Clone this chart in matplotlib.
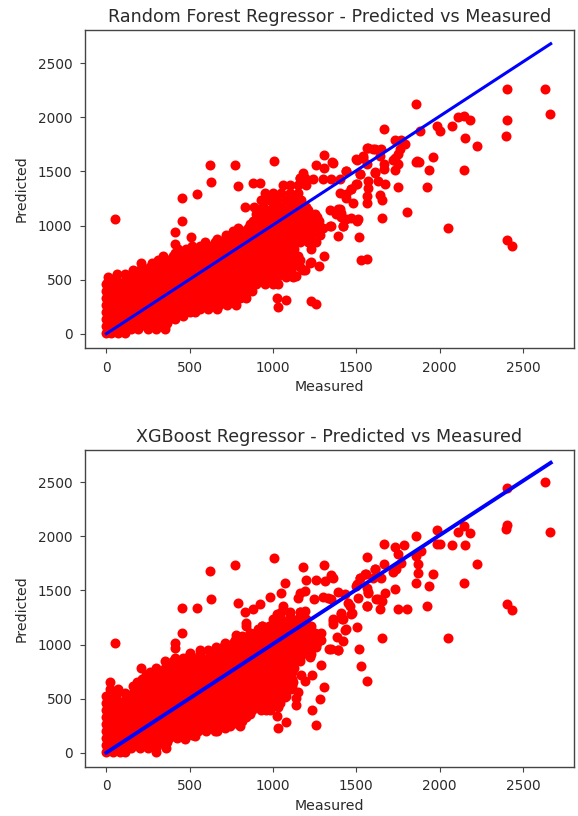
import matplotlib
matplotlib.use("Agg")
import matplotlib.pyplot as plt

axis_ticks = [0, 500, 1000, 1500, 2000, 2500]
line_measured = [0, 2666]
line_predicted = [0, 2680]

# ---- Random Forest: dense cloud, read row by row (predicted level -> measured values)
rf_levels = [10, 40, 70, 135, 200, 265, 330, 395, 460, 525, 590, 655, 720, 785, 850, 915, 980, 1045, 1110, 1175, 1240, 1305, 1370, 1435,
             100, 165, 230, 295, 360, 425, 490, 555, 620, 685, 750, 815, 880, 945, 1010, 1075, 1140]
rf_rows = [
    [0, 30, 70, 110],
    [150, 190, 250, 300, 350],
    [0, 50, 100, 150, 200, 250, 300, 350],
    [0, 25, 75, 125, 175, 225, 275, 325, 375, 410],
    [0, 50, 100, 150, 200, 250, 300, 350, 400, 450, 500, 530],
    [0, 25, 75, 125, 175, 225, 275, 325, 375, 425, 475, 525, 575, 625, 675, 725, 780],
    [0, 50, 100, 150, 200, 250, 300, 350, 400, 450, 500, 550, 600, 650, 700, 750, 800, 840],
    [0, 25, 75, 125, 175, 225, 275, 325, 375, 425, 475, 525, 575, 625, 675, 725, 775, 825, 875],
    [0, 50, 100, 150, 200, 250, 300, 350, 400, 450, 500, 550, 600, 650, 700, 750, 800, 850, 900, 950, 1000],
    [10, 60, 125, 175, 225, 275, 325, 375, 425, 475, 525, 575, 625, 675, 725, 775, 825, 875, 925, 975, 1025, 1075, 1120],
    [160, 200, 250, 300, 350, 400, 450, 500, 550, 600, 650, 700, 750, 800, 850, 900, 950, 1000, 1050, 1100, 1180],
    [210, 275, 325, 375, 425, 475, 525, 575, 625, 675, 725, 775, 825, 875, 925, 975, 1025, 1075, 1130, 1220],
    [340, 400, 450, 500, 550, 600, 650, 700, 750, 800, 850, 900, 950, 1000, 1050, 1100, 1150],
    [430, 475, 525, 575, 625, 675, 725, 775, 825, 875, 925, 975, 1025, 1075, 1125, 1230],
    [590, 650, 700, 750, 800, 850, 900, 950, 1000, 1050, 1100, 1160, 1210, 1260],
    [720, 775, 825, 875, 925, 975, 1025, 1075, 1125, 1175, 1225, 1280],
    [790, 850, 900, 950, 1000, 1050, 1100, 1150, 1200, 1250, 1300],
    [880, 925, 975, 1025, 1075, 1125, 1175, 1225, 1275],
    [900, 950, 1000, 1050, 1100, 1150, 1200, 1250],
    [830, 885, 940, 1000, 1050, 1100, 1150, 1200],
    [930, 975, 1025, 1075, 1125, 1170],
    [950, 1000, 1050, 1100, 1150],
    [1060, 1100, 1150, 1200],
    [1160, 1190],
    [12, 62, 112, 162, 212, 262, 312, 362],
    [12, 62, 112, 162, 212, 262, 312, 362, 412, 462],
    [12, 62, 112, 162, 212, 262, 312, 362, 412, 462, 512, 562, 612, 662],
    [12, 62, 112, 162, 212, 262, 312, 362, 412, 462, 512, 562, 612, 662, 712, 762],
    [12, 62, 112, 162, 212, 262, 312, 362, 412, 462, 512, 562, 612, 662, 712, 762, 812],
    [12, 62, 112, 162, 212, 262, 312, 362, 412, 462, 512, 562, 612, 662, 712, 762, 812, 862],
    [12, 62, 112, 162, 212, 262, 312, 362, 412, 462, 512, 562, 612, 662, 712, 762, 812, 862, 912, 962],
    [62, 112, 162, 212, 262, 312, 362, 412, 462, 512, 562, 612, 662, 712, 762, 812, 862, 912, 962, 1012, 1062, 1112],
    [212, 262, 312, 362, 412, 462, 512, 562, 612, 662, 712, 762, 812, 862, 912, 962, 1012, 1062, 1112, 1162],
    [312, 362, 412, 462, 512, 562, 612, 662, 712, 762, 812, 862, 912, 962, 1012, 1062, 1112, 1162],
    [412, 462, 512, 562, 612, 662, 712, 762, 812, 862, 912, 962, 1012, 1062, 1112],
    [512, 562, 612, 662, 712, 762, 812, 862, 912, 962, 1012, 1062, 1112],
    [662, 712, 762, 812, 862, 912, 962, 1012, 1062, 1112, 1162, 1212],
    [762, 812, 862, 912, 962, 1012, 1062, 1112, 1162, 1212, 1262],
    [862, 912, 962, 1012, 1062, 1112, 1162, 1212, 1262],
    [912, 962, 1012, 1062, 1112, 1162, 1212, 1262],
    [912, 962, 1012, 1062, 1112, 1162, 1212],
]
# ---- Random Forest: separately readable points
rf_measured = [2406, 2634, 2660, 2406, 2398, 1856, 1664, 1880, 1986, 2000, 2074, 2110, 2144, 2180, 2152, 2222, 2144, 1960, 1934, 1924,
               1856, 1866, 1876, 2048, 2406, 2432, 1804, 1654, 1750, 1734, 1750, 1734, 1770, 1790, 1760, 1750, 1720, 1734, 1666, 1666,
               1566, 1600, 1650, 1640, 1540, 1506, 1566, 1520, 1436, 1360, 1610, 1630, 1570, 1670, 1570, 1506, 1470, 1440, 1440, 1566,
               1644, 1654, 1480, 1566, 1400, 1410, 1410, 1470, 1510, 1514, 1390, 1530, 1566, 1346, 1380, 1420, 1340, 1436, 1506, 1390,
               1306, 1276, 1230, 1190, 1140, 1030, 1026, 1076, 1030, 1230, 1260, 1340, 1420, 1006, 770, 622, 630, 788, 880, 920, 544,
               456, 456, 54, 410, 506, 412, 1570, 1610, 1500, 1540, 1520, 1500, 1470, 1400, 1400, 1350, 1300, 1240, 1356, 1306, 1260,
               1306, 1180, 1160, 1610, 1440]
rf_predicted = [2260, 2260, 2028, 1976, 1827, 2124, 1895, 1877, 1920, 1877, 1920, 2003, 2016, 1976, 1812, 1732, 1516, 1636, 1516, 1352,
                1590, 1596, 1590, 973, 868, 812, 1124, 1068, 1352, 1516, 1568, 1790, 1790, 1757, 1705, 1665, 1610, 1625, 1568, 1518,
                1720, 1705, 1710, 1640, 1640, 1610, 1565, 1480, 1506, 1580, 1490, 1410, 1410, 1380, 1350, 1380, 1340, 1290, 1250, 1270,
                1280, 1240, 1204, 1204, 1150, 1120, 1080, 1065, 1060, 895, 900, 680, 692, 994, 1102, 994, 1148, 1056, 1040, 1155,
                716, 624, 664, 587, 531, 463, 330, 309, 244, 300, 275, 994, 994, 1596, 1556, 1556, 1405, 1368, 1395, 1395, 1287,
                1257, 1044, 1056, 939, 895, 825, 1720, 1704, 1611, 1627, 1473, 1380, 1340, 1426, 1303, 1426, 1426, 1426, 1587, 1534, 1556,
                1650, 1488, 1442, 1482, 1503]

# ---- XGBoost: dense cloud, read row by row
xgb_levels = [10, 40, 70, 135, 200, 265, 330, 395, 460, 525, 590, 655, 720, 785, 850, 915, 980, 1045, 1110, 1175, 1240, 1305,
              100, 165, 230, 295, 360, 425, 490, 555, 620, 685, 750, 815, 880, 945, 1010, 1075, 1140]
xgb_rows = [
    [0, 40, 80, 110, 300],
    [150, 200, 250, 300, 360],
    [0, 50, 100, 150, 200, 250, 300, 350],
    [0, 25, 75, 125, 175, 225, 275, 325, 375, 425, 470],
    [0, 50, 100, 150, 200, 250, 300, 350, 400, 450, 500, 550, 600, 650],
    [0, 25, 75, 125, 175, 225, 275, 325, 375, 425, 475, 525, 575, 625, 675, 725, 790],
    [0, 50, 100, 150, 200, 250, 300, 350, 400, 450, 500, 550, 600, 650, 700, 750, 800, 840],
    [0, 25, 75, 125, 175, 225, 275, 325, 375, 425, 475, 525, 575, 625, 675, 725, 775, 825, 875, 925, 960],
    [0, 50, 100, 150, 200, 250, 300, 350, 400, 450, 500, 550, 600, 650, 700, 750, 800, 850, 900, 950, 1000, 1040],
    [0, 50, 125, 175, 225, 275, 325, 375, 425, 475, 525, 575, 625, 675, 725, 775, 825, 875, 925, 975, 1025, 1075],
    [24, 70, 180, 200, 250, 300, 350, 400, 450, 500, 550, 600, 650, 700, 750, 800, 850, 900, 950, 1000, 1050, 1110],
    [24, 186, 230, 275, 325, 375, 425, 475, 525, 575, 625, 675, 725, 775, 825, 875, 925, 975, 1025, 1075, 1120],
    [240, 300, 350, 400, 450, 500, 550, 600, 650, 700, 750, 800, 850, 900, 950, 1000, 1050, 1100, 1170],
    [300, 350, 385, 425, 475, 525, 575, 625, 675, 725, 775, 825, 875, 925, 975, 1025, 1075, 1125],
    [350, 400, 450, 500, 550, 600, 650, 700, 750, 800, 850, 900, 950, 1000, 1050, 1100, 1160],
    [500, 560, 625, 675, 725, 775, 825, 875, 925, 975, 1025, 1075, 1125, 1175, 1230],
    [660, 700, 750, 800, 850, 900, 950, 1000, 1050, 1100, 1150, 1200, 1260],
    [770, 825, 875, 925, 975, 1025, 1075, 1125, 1175, 1225, 1285],
    [860, 900, 950, 1000, 1050, 1100, 1150, 1200, 1250, 1290],
    [840, 936, 975, 1025, 1075, 1125, 1175, 1225],
    [1000, 1050, 1100, 1150, 1200],
    [1050, 1100, 1160],
    [12, 62, 112, 162, 212, 262, 312, 362],
    [12, 62, 112, 162, 212, 262, 312, 362, 412, 462, 512],
    [12, 62, 112, 162, 212, 262, 312, 362, 412, 462, 512, 562, 612, 662, 712],
    [12, 62, 112, 162, 212, 262, 312, 362, 412, 462, 512, 562, 612, 662, 712, 762, 812],
    [12, 62, 112, 162, 212, 262, 312, 362, 412, 462, 512, 562, 612, 662, 712, 762, 812, 862],
    [12, 62, 112, 162, 212, 262, 312, 362, 412, 462, 512, 562, 612, 662, 712, 762, 812, 862, 912, 962],
    [12, 62, 112, 162, 212, 262, 312, 362, 412, 462, 512, 562, 612, 662, 712, 762, 812, 862, 912, 962, 1012],
    [62, 112, 162, 212, 262, 312, 362, 412, 462, 512, 562, 612, 662, 712, 762, 812, 862, 912, 962, 1012, 1062],
    [162, 212, 262, 312, 362, 412, 462, 512, 562, 612, 662, 712, 762, 812, 862, 912, 962, 1012, 1062, 1112],
    [212, 262, 312, 362, 412, 462, 512, 562, 612, 662, 712, 762, 812, 862, 912, 962, 1012, 1062, 1112],
    [262, 312, 362, 412, 462, 512, 562, 612, 662, 712, 762, 812, 862, 912, 962, 1012, 1062, 1112],
    [362, 412, 462, 512, 562, 612, 662, 712, 762, 812, 862, 912, 962, 1012, 1062, 1112],
    [412, 462, 512, 562, 612, 662, 712, 762, 812, 862, 912, 962, 1012, 1062, 1112, 1162],
    [562, 612, 662, 712, 762, 812, 862, 912, 962, 1012, 1062, 1112, 1162, 1212],
    [712, 762, 812, 862, 912, 962, 1012, 1062, 1112, 1162, 1212, 1262],
    [812, 862, 912, 962, 1012, 1062, 1112, 1162, 1212, 1262],
    [912, 962, 1012, 1062, 1112, 1162, 1212],
]
# ---- XGBoost: separately readable points
xgb_measured = [2406, 2634, 2660, 2406, 2398, 2406, 2432, 2048, 2144, 2222, 2152, 2180, 2144, 2110, 2074, 1986, 2000, 1986, 1960, 1934,
                1924, 1856, 1856, 1890, 1856, 1870, 1870, 1804, 1750, 1734, 1654, 1670, 1630, 1656, 1644, 1566, 1566, 1664, 1734, 1786,
                1750, 1770, 1740, 1720, 1664, 1610, 1650, 1600, 1550, 1520, 1504, 1564, 1570, 1510, 1360, 1350, 1390, 1430, 1350, 1460,
                1476, 1410, 1416, 1360, 1360, 1506, 1434, 1384, 1420, 1514, 1390, 1346, 1530, 1566,
                1006, 770, 622, 630, 788, 456, 544, 456, 54, 410, 410, 500, 210, 1180, 1306, 1200, 1260, 1310, 1350, 1070, 980, 1050,
                1060, 920, 880, 830, 1024, 1100, 1160, 1190, 1150, 1244, 1160, 1190, 840, 936, 780, 770, 860, 1390, 1336, 1224, 1286,
                1190, 1236, 1306, 1280, 1234, 1260, 1150, 1136, 1136, 1070, 1080, 1030, 1024, 980, 1030, 800, 744, 664, 530, 470,
                1410, 1360, 1420, 1436, 1470, 1450, 1566, 1520, 1560, 1610, 1500, 1570, 1620, 1330, 1300]
xgb_predicted = [2451, 2504, 2044, 2102, 2071, 1371, 1315, 1056, 1569, 1748, 1920, 2028, 2096, 2044, 1920, 2059, 1926, 1926, 1652, 1544,
                 1355, 1569, 2004, 1865, 1818, 1741, 1664, 1325, 1325, 1516, 1056, 1473, 1417, 1399, 1325, 1355, 1812, 1933, 1905, 1920,
                 1834, 1757, 1701, 1670, 1741, 1695, 1618, 1618, 1649, 1618, 1556, 1525, 1485, 1433, 1618, 1640, 1485, 1464, 1417, 1355,
                 1294, 1285, 1232, 1217, 1186, 1164, 1137, 1069, 1032, 961, 945, 961, 797, 667,
                 1800, 1732, 1677, 1420, 1380, 1340, 1340, 1109, 1016, 1016, 964, 924, 785, 1720, 1732, 1596, 1596, 1587, 1627, 1572, 1436, 1479,
                 1356, 1371, 1331, 1300, 1278, 1263, 1479, 1494, 1433, 1420, 1303, 1309, 1195, 1170, 1087, 1032, 1109, 948, 961, 883, 809,
                 661, 717, 609, 492, 393, 257, 559, 507, 445, 516, 288, 229, 337, 399, 424, 245, 245, 205, 152, 127,
                 1294, 1232, 1232, 1140, 1278, 1387, 1356, 1618, 1649, 1695, 1541, 1479, 1417, 1430, 1440]


def expand(levels, rows, xs, ys):
    mx = [v for row in rows for v in row] + xs
    my = [lv for lv, row in zip(levels, rows) for _ in row] + ys
    return mx, my


fig = plt.figure(figsize=(5.78, 8.16), dpi=100)
W, H = 578.0, 816.0
TEXT = "#2b2b2b"
SPINE = "#444444"
panels = [
    ("Random Forest Regressor - Predicted vs Measured", expand(rf_levels, rf_rows, rf_measured, rf_predicted),
     (85, 30, 573.7, 348), (-132, 2807), 2.2),
    ("XGBoost Regressor - Predicted vs Measured", expand(xgb_levels, xgb_rows, xgb_measured, xgb_predicted),
     (85, 450, 573.7, 767), (-132, 2798), 2.8),
]
for title, (mx, my), (l, t, r, b), ylim, lw in panels:
    ax = fig.add_axes([l / W, 1 - b / H, (r - l) / W, (b - t) / H])
    ax.scatter(mx, my, c="red", s=52, linewidths=0)
    ax.plot(line_measured, line_predicted, color="blue", lw=lw)
    ax.set_xlim(-128, 2804)
    ax.set_ylim(*ylim)
    ax.set_xticks(axis_ticks)
    ax.set_yticks(axis_ticks)
    ax.tick_params(labelsize=9.8, pad=5.5, color=SPINE, labelcolor=TEXT)
    for s in ax.spines.values():
        s.set_color(SPINE)
        s.set_linewidth(1.0)
    ax.set_title(title, fontsize=12.6, color=TEXT)
    ax.set_xlabel("Measured", fontsize=10.2, color=TEXT)
    ax.set_ylabel("Predicted", fontsize=10.2, color=TEXT, labelpad=6.5)
fig.savefig("out.png", dpi=100)
